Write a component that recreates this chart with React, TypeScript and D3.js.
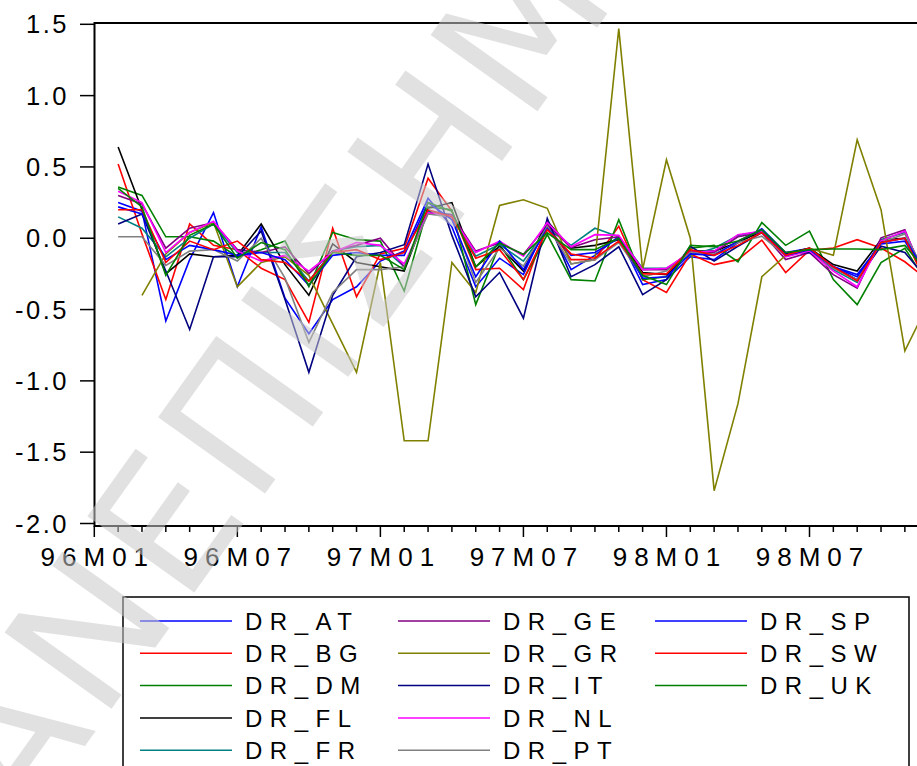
import React from "react";
import * as d3 from "d3";

// Month index 0 = 96M01; the differenced series start at index 1 (96M02).
const START_INDEX = 1;

const DR_AT = [0.25, 0.19, -0.58, -0.15, 0.18, -0.34, 0.08, -0.42, -0.67, -0.43, -0.34, -0.16, -0.09, 0.28, 0.08, -0.34, -0.14, -0.255, 0.11, -0.22, -0.12, 0.014, -0.325, -0.29, -0.13, -0.15, -0.03, 0.067, -0.1, -0.07, -0.2, -0.255, -0.04, -0.02, -0.3];
const DR_BG = [0.52, 0.03, -0.43, 0.1, -0.05, -0.08, -0.21, -0.29, -0.59, 0.07, -0.41, -0.11, -0.07, 0.42, 0.19, -0.22, -0.21, -0.36, 0.096, -0.15, -0.15, 0.084, -0.29, -0.38, -0.11, -0.185, -0.15, -0.013, -0.24, -0.084, -0.068, -0.01, -0.068, -0.165, -0.3];
const DR_DM = [0.36, 0.3, 0.01, 0.01, -0.02, -0.13, -0.08, -0.02, -0.34, 0.04, -0.01, -0.02, -0.37, 0.22, 0.2, -0.465, -0.044, -0.29, 0.026, -0.29, -0.3, 0.13, -0.29, -0.27, -0.07, -0.05, -0.165, 0.11, -0.05, 0.05, -0.29, -0.465, -0.17, -0.07, -0.33];
const DR_FL = [0.64, 0.2, -0.25, -0.11, -0.13, -0.12, 0.1, -0.185, -0.4, -0.04, -0.17, -0.2, -0.23, 0.21, 0.25, -0.2, -0.056, -0.23, 0.12, -0.07, -0.05, -0.01, -0.24, -0.255, -0.09, -0.09, -0.03, 0.05, -0.11, -0.07, -0.185, -0.23, -0.01, 0.0, -0.32];
const DR_FR = [0.15, 0.07, -0.13, 0.0, 0.1, -0.1, -0.1, -0.1, -0.3, -0.09, -0.06, -0.05, -0.2, 0.19, 0.165, -0.126, -0.044, -0.16, 0.07, -0.05, 0.07, 0.01, -0.21, -0.21, -0.12, -0.07, 0.02, 0.05, -0.12, -0.08, -0.22, -0.31, -0.01, 0.04, -0.3];
const DR_GE = [0.3, 0.24, -0.07, 0.07, 0.11, -0.08, -0.1, -0.06, -0.25, -0.09, -0.05, 0.0, -0.2, 0.18, 0.165, -0.09, -0.033, -0.114, 0.096, -0.065, -0.01, 0.01, -0.22, -0.22, -0.09, -0.1, 0.01, 0.04, -0.15, -0.1, -0.255, -0.35, 0.003, 0.06, -0.35];
const DR_GR = [null, -0.4, -0.11, 0.04, 0.11, -0.34, -0.17, -0.13, -0.26, -0.6, -0.94, -0.17, -1.42, -1.42, -0.17, -0.38, 0.23, 0.27, 0.21, -0.18, -0.15, 1.47, -0.22, 0.55, 0.0, -1.77, -1.16, -0.27, -0.12, -0.07, -0.12, 0.69, 0.2, -0.79, -0.45];
const DR_IT = [0.1, 0.17, -0.23, -0.64, -0.13, -0.13, 0.05, -0.43, -0.94, -0.4, -0.13, -0.1, -0.045, 0.52, 0.02, -0.41, -0.24, -0.56, 0.14, -0.27, -0.185, -0.06, -0.395, -0.29, -0.056, -0.16, -0.056, 0.04, -0.11, -0.1, -0.2, -0.29, -0.056, -0.1, -0.3];
const DR_NL = [0.33, 0.25, -0.1, 0.04, 0.12, -0.09, -0.16, -0.12, -0.23, -0.1, -0.03, -0.05, -0.18, 0.18, 0.15, -0.1, -0.02, -0.126, 0.11, -0.06, 0.025, 0.02, -0.22, -0.21, -0.1, -0.09, 0.025, 0.05, -0.13, -0.09, -0.23, -0.34, -0.02, 0.05, -0.33];
const DR_PT = [0.01, 0.01, -0.19, -0.09, -0.08, -0.16, 0.0, -0.28, -0.73, -0.38, -0.22, -0.22, -0.2, 0.17, 0.15, -0.31, -0.068, -0.196, 0.084, -0.18, -0.15, -0.03, -0.27, -0.23, -0.1, -0.11, -0.03, 0.014, -0.12, -0.08, -0.21, -0.29, -0.03, 0.03, -0.3];
const DR_SP = [0.22, 0.17, -0.15, -0.05, -0.08, -0.12, -0.1, -0.15, -0.33, -0.12, -0.1, -0.12, -0.12, 0.25, 0.13, -0.27, -0.02, -0.22, 0.07, -0.12, -0.1, 0.0, -0.28, -0.27, -0.11, -0.12, -0.02, 0.06, -0.12, -0.08, -0.2, -0.27, -0.03, 0.0, -0.28];
const DR_SW = [0.2, 0.2, -0.17, -0.02, -0.08, -0.02, -0.15, -0.17, -0.3, -0.1, -0.08, -0.15, -0.1, 0.2, 0.15, -0.14, -0.08, -0.29, 0.06, -0.11, -0.14, -0.02, -0.25, -0.25, -0.08, -0.12, -0.05, 0.04, -0.12, -0.07, -0.2, -0.3, -0.03, 0.0, -0.35];
const DR_UK = [0.35, 0.22, -0.26, 0.02, 0.1, -0.14, -0.03, -0.08, -0.33, -0.1, -0.12, -0.12, -0.22, 0.25, 0.19, -0.2, -0.033, -0.114, 0.038, -0.08, -0.08, 0.0, -0.26, -0.325, -0.05, -0.06, -0.02, 0.06, -0.1, -0.08, -0.075, -0.075, -0.08, -0.05, -0.25];

const SERIES_NAMES = ["DR_AT", "DR_BG", "DR_DM", "DR_FL", "DR_FR", "DR_GE", "DR_GR", "DR_IT", "DR_NL", "DR_PT", "DR_SP", "DR_SW", "DR_UK"];
const SERIES_VALUES = [DR_AT, DR_BG, DR_DM, DR_FL, DR_FR, DR_GE, DR_GR, DR_IT, DR_NL, DR_PT, DR_SP, DR_SW, DR_UK];
const SERIES_COLORS = ["#0000ff", "#ff0000", "#008000", "#000000", "#008080", "#800080", "#808000", "#000080", "#ff00ff", "#808080", "#0000ff", "#ff0000", "#008000"];

const Y_TICKS = [-2.0, -1.5, -1.0, -0.5, 0.0, 0.5, 1.0, 1.5];
const X_LABELS = ["96M01", "96M07", "97M01", "97M07", "98M01", "98M07"];

const W = 917;
const H = 766;
const FONT = "'Liberation Sans', Arial, Helvetica, sans-serif";

export default function App() {
  const plotLeft = 94.5;
  const plotTop = 23;
  const plotBottom = 526;
  const plotRight = 960;

  const x = d3.scaleLinear().domain([0, 36]).range([94.3, 94.3 + 23.84 * 36]);
  const y = d3.scaleLinear().domain([-2, 1.5]).range([523.5, 24.3]);

  const line = d3
    .line<number | null>()
    .defined((d) => d !== null)
    .x((_, i) => x(i + START_INDEX))
    .y((d) => y(d as number));

  const monthTicks = d3.range(0, 37);
  const legendColX = [140, 398, 655];
  const rowsPerCol = 5;

  return (
    <svg
      width={W}
      height={H}
      viewBox={`0 0 ${W} ${H}`}
      style={{ position: "absolute", left: 0, top: 0, background: "#fff" }}
      fontFamily={FONT}
    >
      <rect x={0} y={0} width={W} height={H} fill="#fff" />
      <defs>
        <clipPath id="plot-clip">
          <rect x={plotLeft} y={plotTop} width={plotRight - plotLeft} height={plotBottom - plotTop} />
        </clipPath>
      </defs>

      {/* series */}
      <g clipPath="url(#plot-clip)" fill="none" strokeWidth={1.6} strokeLinejoin="miter">
        {SERIES_VALUES.map((vals, k) => (
          <path key={SERIES_NAMES[k]} d={line(vals) || ""} stroke={SERIES_COLORS[k]} />
        ))}
      </g>

      {/* frame */}
      <rect
        x={plotLeft}
        y={plotTop}
        width={plotRight - plotLeft}
        height={plotBottom - plotTop}
        fill="none"
        stroke="#000"
        strokeWidth={2}
      />

      {/* y axis */}
      {Y_TICKS.map((t) => (
        <g key={t}>
          <line x1={80} x2={plotLeft} y1={y(t)} y2={y(t)} stroke="#000" strokeWidth={1.5} />
          <text
            x={69}
            y={y(t)}
            dy="0.36em"
            textAnchor="end"
            fontSize={25.5}
            letterSpacing={2.5}
            fill="#000"
          >
            {t.toFixed(1)}
          </text>
        </g>
      ))}

      {/* x axis */}
      {monthTicks.map((m) => {
        const major = m % 6 === 0;
        return (
          <line
            key={m}
            x1={x(m)}
            x2={x(m)}
            y1={plotBottom}
            y2={plotBottom + (major ? 11 : 6)}
            stroke="#000"
            strokeWidth={1.5}
          />
        );
      })}
      {X_LABELS.map((lab, k) => (
        <text
          key={lab}
          x={x(k * 6) + 3.5}
          y={566}
          textAnchor="middle"
          fontSize={26}
          letterSpacing={7}
          fill="#000"
        >
          {lab}
        </text>
      ))}

      {/* legend */}
      <rect x={123} y={597} width={786} height={200} fill="#fff" stroke="#000" strokeWidth={1.5} />
      {SERIES_NAMES.map((name, k) => {
        const col = Math.floor(k / rowsPerCol);
        const row = k % rowsPerCol;
        const cy = 621 + row * 32.3;
        const lx = legendColX[col];
        return (
          <g key={name}>
            <line x1={lx} x2={lx + 92} y1={cy} y2={cy} stroke={SERIES_COLORS[k]} strokeWidth={1.5} />
            <text x={lx + 105} y={cy} dy="0.36em" fontSize={24} letterSpacing={7.5} fill="#000">
              {name}
            </text>
          </g>
        );
      })}

      {/* watermark */}
      <text
        transform="translate(25,830) rotate(-54.5)"
        fontSize={180}
        letterSpacing={8}
        fill="#c8c8c8"
        fillOpacity={0.55}
        fontFamily="'DejaVu Sans', sans-serif"
        fontWeight={400}
      >
        ΑΝΕΠΙΣΗΜΟ
      </text>
    </svg>
  );
}
